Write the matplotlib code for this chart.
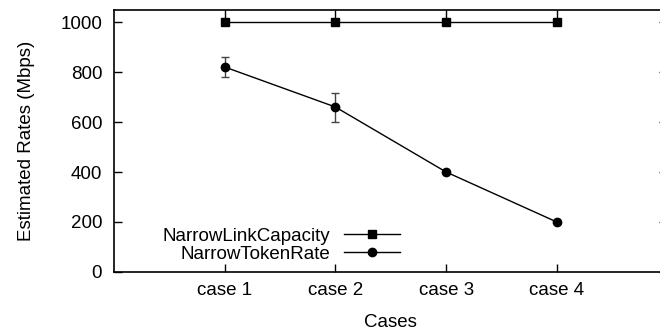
import matplotlib
matplotlib.use("Agg")
import matplotlib.pyplot as plt
from matplotlib.lines import Line2D

cases = ['case 1', 'case 2', 'case 3', 'case 4']
link_capacity = [1000, 1000, 1000, 1000]
token_rate = [820, 660, 400, 200]
token_err = [40, 58, 0, 0]

plt.rcParams['font.family'] = ['Liberation Sans', 'DejaVu Sans']
plt.rcParams['font.size'] = 13.5

fig = plt.figure(figsize=(6.6, 3.35), dpi=100)
ax = fig.add_axes([114 / 660, 63 / 335, 553.5 / 660, 262 / 335])

x = list(range(1, len(cases) + 1))
ax.plot(x, link_capacity, color='black', lw=1, marker='s', ms=6)
ax.errorbar(x, token_rate, yerr=token_err, color='black', lw=1, marker='o',
            ms=6, ecolor='#444444', elinewidth=1, capsize=2.6)

ax.set_xlim(0, 5)
ax.set_ylim(0, 1048)
ax.set_xticks(x)
ax.set_xticklabels(cases)
ax.set_yticks([0, 200, 400, 600, 800, 1000])
ax.tick_params(direction='in', length=5.8, width=1, top=True, right=True)
ax.tick_params(axis='y', pad=8.5)
ax.tick_params(axis='x', pad=7)
for s in ax.spines.values():
    s.set_linewidth(1.2)

ax.set_xlabel('Cases', labelpad=11)
ax.set_ylabel('Estimated Rates (Mbps)', labelpad=18)

handles = [Line2D([], [], color='black', lw=1, marker='s', ms=6),
           Line2D([], [], color='black', lw=1, marker='o', ms=6)]
labels = ['NarrowLinkCapacity', 'NarrowTokenRate']
ax.legend(handles, labels, loc='lower right',
          bbox_to_anchor=(400 / 660, (335 - 263) / 335),
          bbox_transform=fig.transFigure, frameon=False, markerfirst=False,
          handlelength=3.0, handletextpad=0.7, labelspacing=0.05,
          borderpad=0, borderaxespad=0)

fig.savefig('out.png', dpi=100)
